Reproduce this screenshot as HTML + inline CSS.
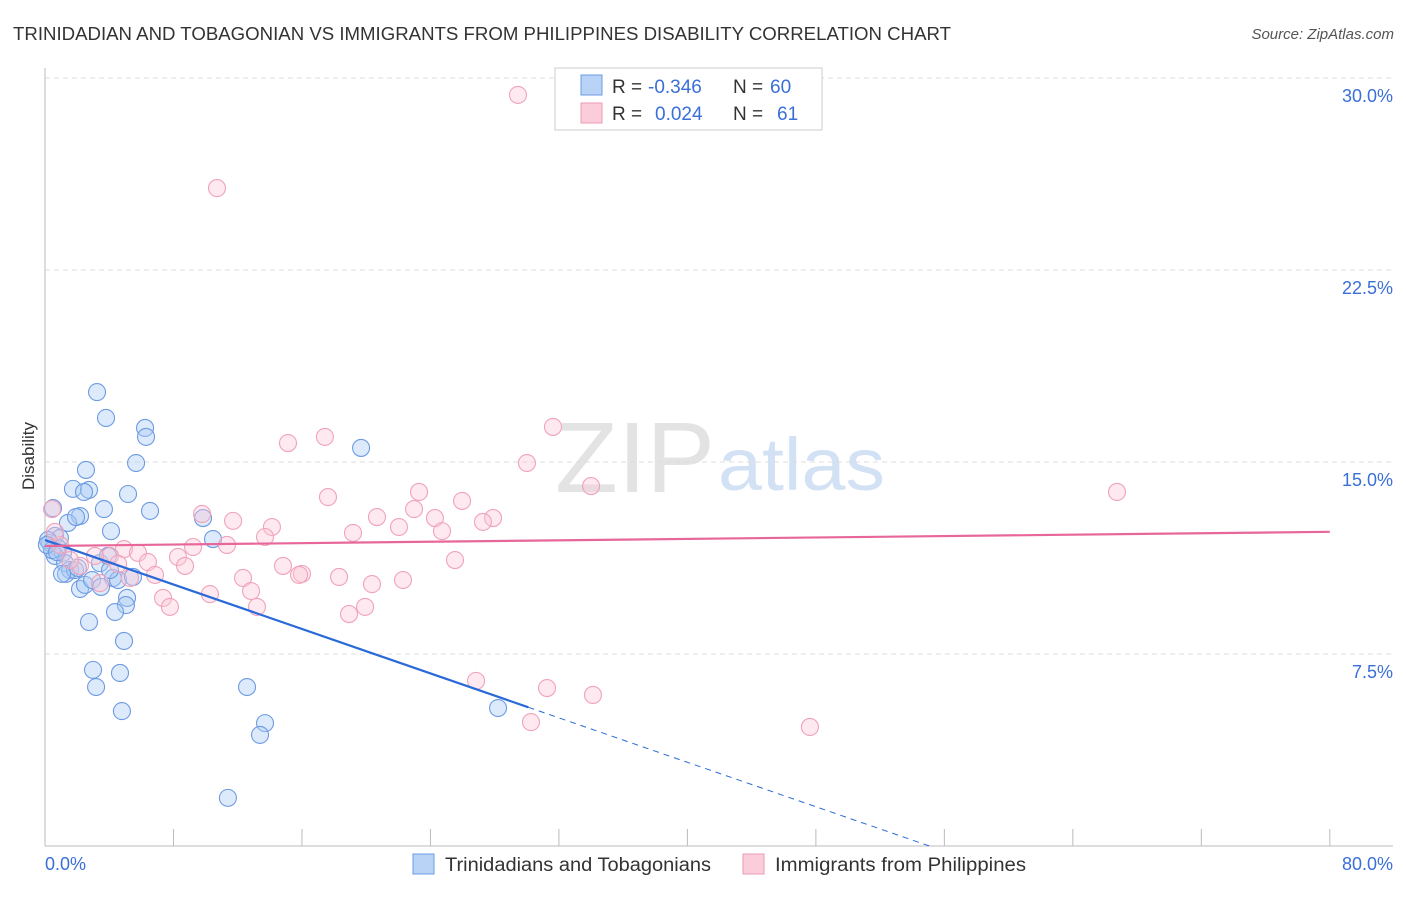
<!DOCTYPE html>
<html><head><meta charset="utf-8"><style>
body{margin:0;background:#fff;font-family:"Liberation Sans",sans-serif;}
svg text{font-family:"Liberation Sans",sans-serif;}
</style></head><body>
<svg id="chart" width="1406" height="892" xmlns="http://www.w3.org/2000/svg">
<text x="13" y="40" font-size="18" fill="#333" textLength="938" lengthAdjust="spacingAndGlyphs">TRINIDADIAN AND TOBAGONIAN VS IMMIGRANTS FROM PHILIPPINES DISABILITY CORRELATION CHART</text>
<text x="1394" y="39" font-size="15" fill="#555" text-anchor="end" font-style="italic">Source: ZipAtlas.com</text>
<text x="555" y="492" font-size="100" fill="#ddd" font-family="Liberation Serif" opacity="0.8" textLength="160" lengthAdjust="spacingAndGlyphs">ZIP</text>
<text x="718" y="490" font-size="74" fill="#c9daf3" opacity="0.8" textLength="167" lengthAdjust="spacingAndGlyphs">atlas</text>
<text transform="translate(34,456) rotate(-90)" font-size="17" fill="#333" text-anchor="middle">Disability</text>
<g id="grid"></g><g id="marks"></g>
<g>
<rect x="555" y="68" width="267" height="62" fill="#fff" stroke="#ccc"/>
<rect x="581" y="75" width="21" height="20" fill="#b9d3f7" stroke="#6b9be0"/>
<rect x="581" y="103" width="21" height="20" fill="#fbcdda" stroke="#ee9ab3"/>
<text x="612" y="93" font-size="19" fill="#333">R =</text>
<text x="648" y="93" font-size="19" fill="#3a6fd8">-0.346</text>
<text x="733" y="93" font-size="19" fill="#333">N =</text>
<text x="770" y="93" font-size="19" fill="#3a6fd8">60</text>
<text x="612" y="120" font-size="19" fill="#333">R =</text>
<text x="655" y="120" font-size="19" fill="#3a6fd8">0.024</text>
<text x="733" y="120" font-size="19" fill="#333">N =</text>
<text x="777" y="120" font-size="19" fill="#3a6fd8">61</text>
</g>
<g>
<rect x="413" y="854" width="21" height="20" fill="#b9d3f7" stroke="#6b9be0"/>
<text x="445" y="871" font-size="19" fill="#333" textLength="266" lengthAdjust="spacingAndGlyphs">Trinidadians and Tobagonians</text>
<rect x="743" y="854" width="21" height="20" fill="#fbcdda" stroke="#ee9ab3"/>
<text x="775" y="871" font-size="19" fill="#333" textLength="251" lengthAdjust="spacingAndGlyphs">Immigrants from Philippines</text>
</g>
</svg>
<script>
const blueX=[3.24,3.80,6.23,6.29,5.67,2.55,1.74,2.74,2.43,5.17,3.67,6.54,2.18,1.43,1.93,4.11,0.50,9.84,10.46,0.62,0.93,0.31,0.81,1.12,0.62,1.25,1.56,1.31,1.87,2.18,2.49,2.93,3.42,4.23,4.55,5.48,3.92,5.11,5.04,4.36,2.74,4.92,2.99,4.67,3.18,4.79,12.58,13.70,13.39,11.39,19.68,28.21,0.19,0.44,0.12,0.75,1.06,2.05,4.05,3.49];
const blueY=[17.73,16.72,16.33,15.98,14.96,14.69,13.95,13.91,13.83,13.75,13.16,13.09,12.89,12.62,12.85,12.30,13.20,12.81,11.99,12.11,12.03,11.84,11.64,11.45,11.33,11.05,10.78,10.63,10.78,10.04,10.20,10.39,11.05,10.47,10.39,10.51,11.33,9.69,9.41,9.14,8.75,8.01,6.88,6.76,6.21,5.27,6.21,4.80,4.34,1.88,15.55,5.39,11.95,11.56,11.76,11.48,10.63,10.86,10.78,10.12];
const pinkX=[29.45,10.71,31.63,17.43,15.13,30.01,34.00,23.29,17.62,25.97,66.75,9.78,11.71,0.44,14.13,20.67,22.98,24.28,27.90,27.27,19.18,22.04,24.72,13.70,11.33,9.22,4.92,5.79,8.28,4.05,3.11,6.41,8.72,25.53,14.82,16.00,15.82,12.33,18.31,22.29,20.36,6.85,3.42,12.83,10.27,7.35,7.78,13.20,19.93,18.93,26.84,31.26,34.12,30.26,47.63,2.18,0.93,0.62,1.56,4.55,5.29];
const pinkY=[29.34,25.70,16.37,15.98,15.74,14.96,14.06,13.83,13.63,13.48,13.83,12.97,12.70,13.16,12.46,12.85,13.16,12.81,12.81,12.66,12.23,12.46,12.30,12.07,11.76,11.68,11.60,11.45,11.29,11.33,11.33,11.09,10.94,11.17,10.94,10.63,10.59,10.47,10.51,10.39,10.23,10.59,10.27,9.96,9.84,9.69,9.34,9.34,9.34,9.06,6.45,6.17,5.90,4.84,4.65,10.94,11.76,12.27,11.17,11.02,10.47];
const yTicks=[7.5,15,22.5,30];
const yTickLabels=["7.5%","15.0%","22.5%","30.0%"];
const blueTrend=[11.95,-0.217,30.1];
const pinkTrend=[11.72,0.0069];
const NS="http://www.w3.org/2000/svg";
const sx=v=>45+v*16.06, sy=v=>846-v*25.6;
function mk(t,a,p){const e=document.createElementNS(NS,t);for(const k in a)e.setAttribute(k,a[k]);p.appendChild(e);return e;}
const g=document.getElementById('grid'), m=document.getElementById('marks');
yTicks.forEach((t,i)=>{
 const l=mk('line',{x1:45,x2:1393,y1:sy(t),y2:sy(t),stroke:'#ddd','stroke-dasharray':'5,4'},g);
 
 
 const tx=mk('text',{x:1393,y:sy(t)+24,'font-size':18,fill:'#3a6fd8','text-anchor':'end'},g);
 tx.textContent=yTickLabels[i];
 
 
});
mk('line',{x1:45,x2:45,y1:68,y2:846,stroke:'#bbb'},g);
mk('line',{x1:45,x2:1393,y1:846,y2:846,stroke:'#bbb'},g);
for(let i=0;i<=10;i++){const t=mk('line',{x1:sx(i*8),x2:sx(i*8),y1:829,y2:846,stroke:'#bbb'},g);
 
 }
const x0=mk('text',{x:45,y:870,'font-size':18,fill:'#3a6fd8'},g);x0.textContent='0.0%';


const x1=mk('text',{x:1393,y:870,'font-size':18,fill:'#3a6fd8','text-anchor':'end'},g);x1.textContent='80.0%';


blueX.forEach((x,i)=>{const c=mk('circle',{cx:sx(x),cy:sy(blueY[i]),r:8.5,fill:'rgba(170,202,244,0.4)',stroke:'#6d9be2','stroke-width':1.1},m);
 
 });
pinkX.forEach((x,i)=>{const c=mk('circle',{cx:sx(x),cy:sy(pinkY[i]),r:8.5,fill:'rgba(250,200,215,0.4)',stroke:'#f0a3bb','stroke-width':1.1},m);
 
 });
const [bi,bs,be]=blueTrend, bz=-bi/bs;
const bl=mk('line',{x1:sx(0),y1:sy(bi),x2:sx(be),y2:sy(bi+bs*be),stroke:'#2a6ad8','stroke-width':2.2},m);


const bd=mk('line',{x1:sx(be),y1:sy(bi+bs*be),x2:sx(bz),y2:sy(0),stroke:'#2a6ad8','stroke-width':1,'stroke-dasharray':'6,5'},m);


const pl=mk('line',{x1:sx(0),y1:sy(pinkTrend[0]),x2:sx(80),y2:sy(pinkTrend[0]+pinkTrend[1]*80),stroke:'#e8679a','stroke-width':2.2},m);


</script>
</body></html>
